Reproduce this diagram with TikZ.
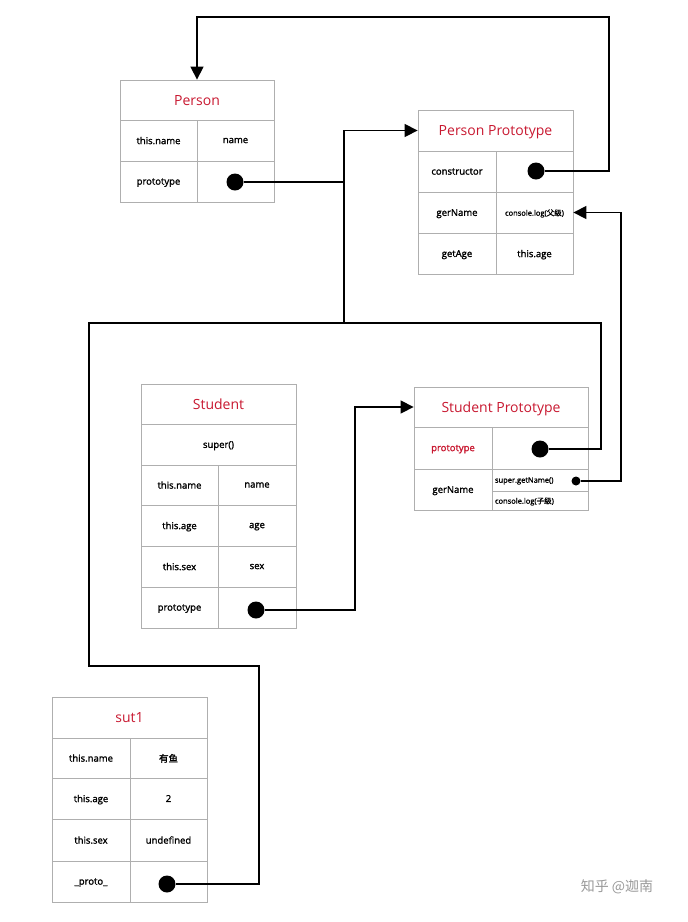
\documentclass[tikz,border=0pt]{standalone}
\usepackage{fontspec}
\setmainfont{Open Sans}
\newfontfamily\cellfont[FakeBold=1.6]{Open Sans}
\newfontfamily\cjk{Noto Sans CJK SC}
\newfontfamily\cjkcell[FakeBold=1.6]{Noto Sans CJK SC}
\usepackage{xcolor}
\usepackage{tikz}
\usetikzlibrary{arrows.meta, positioning}

\definecolor{titlered}{RGB}{200,24,48}
\definecolor{boxgray}{RGB}{175,175,175}

\begin{document}
\begin{tikzpicture}[
    x=1pt, y=-1pt,
    cell/.style={draw=boxgray, line width=0.8pt, rectangle, align=center, inner sep=0pt, minimum height=41pt, minimum width=77pt, text depth=0pt, font=\cellfont\fontsize{9.5}{11}\selectfont},
    headcell/.style={cell, text=titlered, text depth=0pt, font=\fontsize{14}{16}\selectfont},
    smallcell/.style={cell, minimum width=96pt, text width=90pt, align=left, font=\cellfont\fontsize{7.5}{9}\selectfont},
    bigdot/.style={circle, fill=black, inner sep=0pt, minimum size=17pt},
    smalldot/.style={bigdot, minimum size=9pt},
    link/.style={draw, line width=1.3pt},
    linkarrow/.style={link, -{Triangle[length=13pt, width=13pt]}}
  ]
  \useasboundingbox (0,0) rectangle (688,922);

  % Person
  \node[headcell, minimum width=154pt, minimum height=40pt] (ptitle) at (197,100) {Person};
  \node[cell] (pname) at (158.5,140.5) {this.name};
  \node[cell] (pnameval) at (235.5,140.5) {name};
  \node[cell] (pproto) at (158.5,181.5) {prototype};
  \node[cell] (pprotoval) at (235.5,181.5) {};
  \node[bigdot] (pdot) at (235,182) {};

  % Person Prototype
  \node[headcell, minimum width=155pt] (pptitle) at (495.5,130.5) {Person Prototype};
  \node[cell, minimum width=78pt] (ppctor) at (457,171.5) {constructor};
  \node[cell] (ppctorval) at (534.5,171.5) {};
  \node[cell, minimum width=78pt] (ppname) at (457,212.5) {gerName};
  \node[cell, font=\cellfont\fontsize{7.5}{9}\selectfont] (pplog) at (534.5,212.5) {console.log({\cjkcell 父级})};
  \node[cell, minimum width=78pt] (ppage) at (457,253.5) {getAge};
  \node[cell] (ppageval) at (534.5,253.5) {this.age};
  \node[bigdot] (ctordot) at (536,171) {};

  % Student
  \node[headcell, minimum width=155pt, minimum height=40pt] (stitle) at (218.5,404) {Student};
  \node[cell, minimum width=155pt] (ssuper) at (218.5,444.5) {super()};
  \node[cell, minimum height=40pt] (sname) at (179.5,485) {this.name};
  \node[cell, minimum height=40pt, minimum width=78pt] (snameval) at (257,485) {name};
  \node[cell] (sage) at (179.5,525.5) {this.age};
  \node[cell, minimum width=78pt] (sageval) at (257,525.5) {age};
  \node[cell] (ssex) at (179.5,566.5) {this.sex};
  \node[cell, minimum width=78pt] (ssexval) at (257,566.5) {sex};
  \node[cell] (sproto) at (179.5,607.5) {prototype};
  \node[cell, minimum width=78pt] (sprotoval) at (257,607.5) {};
  \node[bigdot] (stdot) at (256,610) {};

  % Student Prototype
  \node[headcell, minimum width=174pt, minimum height=40pt] (sptitle) at (501,407) {Student Prototype};
  \node[cell, text=titlered, minimum width=78pt, minimum height=42pt] (spproto) at (453,448) {prototype};
  \node[cell, minimum width=96pt, minimum height=42pt] (spprotoval) at (540,448) {};
  \node[cell, minimum width=78pt] (spname) at (453,489.5) {gerName};
  \node[smallcell, minimum height=22pt] (spsuper) at (540,480) {super.getName()};
  \node[smallcell, minimum height=19pt] (splog) at (540,500.5) {console.log({\cjkcell 子级})};
  \node[bigdot] (spdot) at (540,449) {};
  \node[smalldot] (getdot) at (576,481) {};

  % sut1
  \node[headcell, minimum width=155pt] (sutitle) at (129.5,717.5) {sut1};
  \node[cell, minimum width=78pt, minimum height=40pt] (suname) at (91,758) {this.name};
  \node[cell, minimum height=40pt] (sunameval) at (168.5,758) {{\cjkcell 有鱼}};
  \node[cell, minimum width=78pt] (suage) at (91,798.5) {this.age};
  \node[cell] (suageval) at (168.5,798.5) {2};
  \node[cell, minimum width=78pt, minimum height=42pt] (susex) at (91,840) {this.sex};
  \node[cell, minimum height=42pt] (susexval) at (168.5,840) {undefined};
  \node[cell, minimum width=78pt] (suproto) at (91,881.5) {\_proto\_};
  \node[cell] (suprotoval) at (168.5,881.5) {};
  \node[bigdot] (sutdot) at (167,884) {};

  % connectors
  \coordinate (topright) at (609,17);
  \draw[linkarrow] (ctordot) -| (topright) -| (ptitle.north);

  \coordinate (upjoin) at (344,323);
  \draw[linkarrow] (upjoin) |- (pptitle.west);
  \draw[link] (pdot) -- (pdot -| upjoin);

  \coordinate (rightjoin) at (601,323);
  \coordinate (leftjoin) at (89,323);
  \coordinate (lowjoin) at (259,666);
  \draw[link] (spdot) -| (rightjoin) -- (leftjoin) |- (lowjoin) |- (sutdot);

  \coordinate (stturn) at (355,407);
  \draw[linkarrow] (stdot) -| (stturn) -- (sptitle.west);

  \coordinate (getturn) at (621,300);
  \draw[linkarrow] (getdot) -| (getturn) |- (pplog.east);

  \node[text=black!40, font=\cjk\fontsize{14}{16}\selectfont] (mark) at (617,887) {知乎 @迦南};
\end{tikzpicture}
\end{document}
